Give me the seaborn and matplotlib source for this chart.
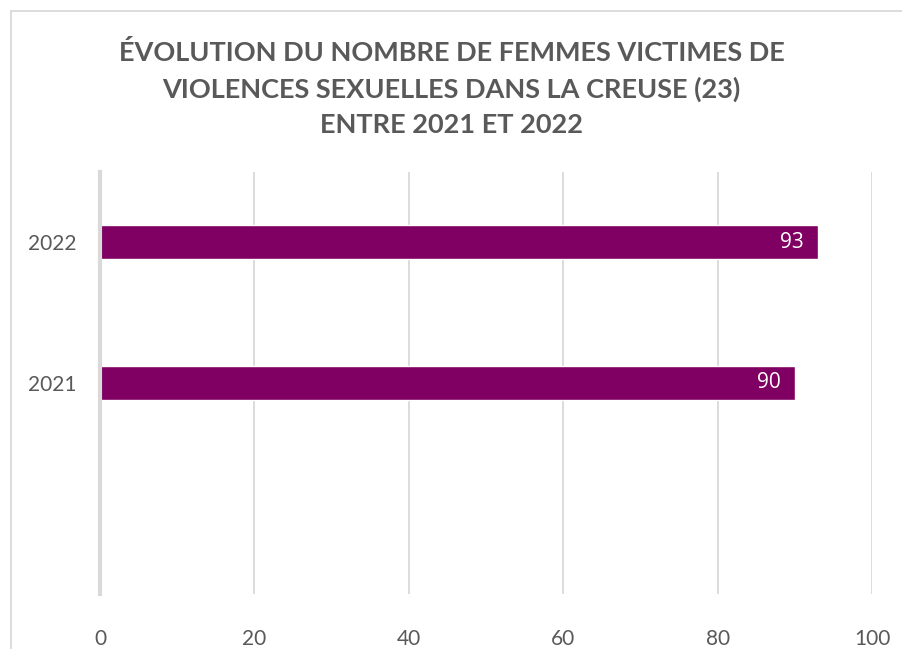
import matplotlib
matplotlib.use('Agg')
import matplotlib.pyplot as plt
import pandas as pd
import seaborn as sns
from matplotlib.patches import Rectangle

years = ['2022', '2021']
victims = [93, 90]
slots = ['2022', '2021', ' ']  # Excel leaves an empty third slot under the bars
x_ticks = [0, 20, 40, 60, 80, 100]
title = ('ÉVOLUTION DU NOMBRE DE FEMMES VICTIMES DE\n'
         'VIOLENCES SEXUELLES DANS LA CREUSE (23)\n'
         'ENTRE 2021 ET 2022')

bar_color = '#7F0062'
grey_txt = '#595959'
grid_col = '#D9D9D9'

sns.set_style('white')
plt.rcParams['font.family'] = ['Lato', 'DejaVu Sans']

df = pd.DataFrame({'Year': years, 'Victims': victims})

fig = plt.figure(figsize=(9.03, 6.49), dpi=100)
ax = fig.add_axes([100 / 903, 55 / 649, 772 / 903, 422 / 649])

sns.barplot(data=df, x='Victims', y='Year', order=slots, orient='h',
            color=bar_color, width=0.243, saturation=1, ax=ax)

ax.set_xlim(0, 100)
ax.set_xticks(x_ticks)
ax.set_xlabel('')
ax.set_ylabel('')
ax.grid(axis='x', color=grid_col, lw=1.3)
ax.set_axisbelow(True)
for s in ['top', 'right', 'bottom']:
    ax.spines[s].set_visible(False)
ax.spines['left'].set_color(grid_col)
ax.spines['left'].set_linewidth(3)
ax.spines['left'].set_zorder(5)
ax.tick_params(axis='both', length=0, labelsize=15, labelcolor=grey_txt)
ax.tick_params(axis='y', pad=17)
ax.tick_params(axis='x', pad=25)

for c in ax.containers:
    ax.bar_label(c, labels=[str(v) for v in victims], label_type='edge',
                 padding=-27, color='white', fontsize=15, family='Open Sans')

fig.text(0.5, 0.864, title, ha='center', va='center', fontsize=19.5,
         fontweight='bold', color=grey_txt, linespacing=1.56)

fig.patches.append(Rectangle((11 / 903, -0.1), 1.2, 0.1 + 638 / 649,
                             transform=fig.transFigure, fill=False,
                             edgecolor=grid_col, lw=1.3))

fig.savefig('out.png', dpi=100)
